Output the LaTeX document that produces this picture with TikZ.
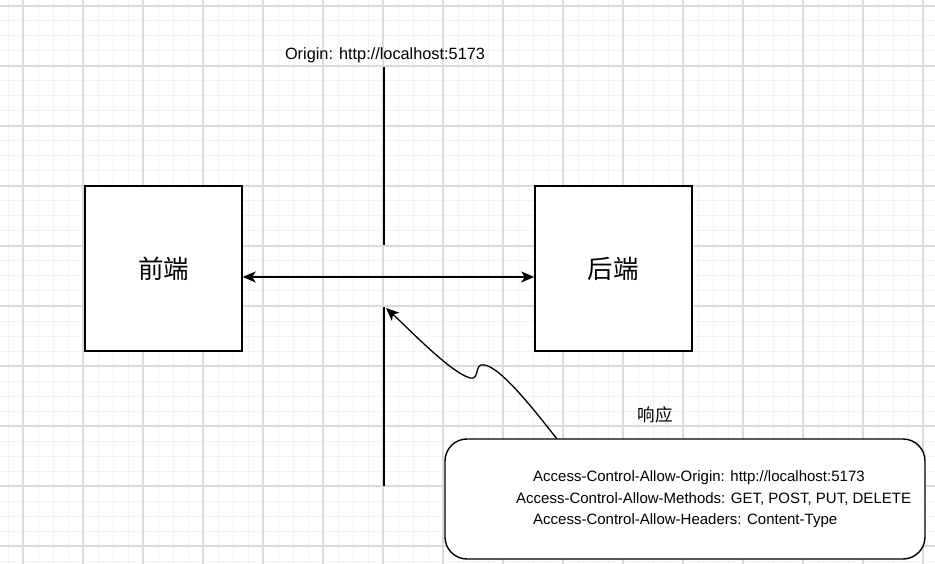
\documentclass[tikz,border=0pt]{standalone}
\usepackage{fontspec}
\setmainfont{Liberation Sans}
\newfontfamily\cjk{Noto Sans CJK SC}
\usetikzlibrary{arrows.meta,positioning,calc}
\definecolor{gridmajor}{RGB}{218,218,218}
\definecolor{gridminor}{RGB}{243,243,243}
\tikzset{
  termbox/.style={draw,line width=1.4pt,fill=white,inner sep=0pt,
                  minimum width=157pt,minimum height=165pt,
                  font=\cjk\fontsize{25.5}{30}\selectfont},
  hdrbox/.style={draw,line width=1.4pt,fill=white,rounded corners=22pt,
                 minimum width=480pt,minimum height=120pt},
  hdr/.style={anchor=west,inner sep=0pt,font=\fontsize{15}{18}\selectfont},
  tip/.tip={Stealth[length=13pt,width=11pt,inset=3.5pt]},
  arr/.style={-tip,line width=1.3pt},
  wire/.style={line width=1.3pt},
}

\begin{document}
\begin{tikzpicture}[x=1pt,y=-1pt]
  \useasboundingbox (0,0) rectangle (935,564);
  % background grid
  \foreach \gx in {8,23,...,935} \draw[gridminor,line width=1pt] (\gx,0) -- (\gx,564);
  \foreach \gy in {6,21,...,564} \draw[gridminor,line width=1pt] (0,\gy) -- (935,\gy);
  \foreach \gx in {23,83,...,935} \draw[gridmajor,line width=1.2pt] (\gx,0) -- (\gx,564);
  \foreach \gy in {6,66,...,564} \draw[gridmajor,line width=1.2pt] (0,\gy) -- (935,\gy);

  \node[termbox] (front) at (163.5,268.5) {前端};
  \node[termbox,right=291.5pt of front] (back) {后端};
  \draw[arr,tip-tip] ($(front.east)+(0,8.5)$) -- ($(back.west)+(0,8.5)$);

  % request
  \node[font=\fontsize{16.3}{19}\selectfont] (origin) at (385,55)
       {Origin: http://localhost:5173};
  \coordinate (reqTop) at (384,67);
  \coordinate (reqEnd) at (384,245);
  \draw[wire] (reqTop) -- (reqEnd);

  % response
  \node[hdrbox] (headers) at (685,499) {};
  \node[hdr] (hdrOrigin) at (533,478) {Access-Control-Allow-Origin: http://localhost:5173};
  \node[hdr] (hdrMethods) at (516,499) {Access-Control-Allow-Methods: GET, POST, PUT, DELETE};
  \node[hdr] (hdrHeaders) at (533,521) {Access-Control-Allow-Headers: Content-Type};
  \node[font=\cjk\fontsize{17.5}{20}\selectfont] (resp) at (655,415) {响应};
  \coordinate (resTop) at (384,307);
  \coordinate (resEnd) at (384,486);
  \coordinate (curveStart) at (557,439);
  \coordinate (resTip) at (386,308);
  \draw[wire] (resEnd) -- (resTop);
  \draw[arr] (curveStart) .. controls (525,398) and (495,362) .. (481,365)
             .. controls (475,367) and (479,380) .. (470,378)
             .. controls (450,372) and (410,330) .. (resTip);
\end{tikzpicture}
\end{document}
